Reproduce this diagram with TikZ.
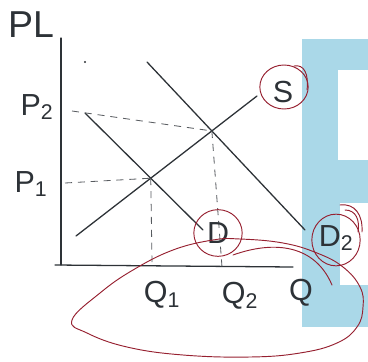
\documentclass[tikz,border=0pt]{standalone}
\usepackage{fontspec}
\setmainfont{Liberation Sans}
\usepackage{xcolor}
\usepackage{tikz}
\usetikzlibrary{positioning, shapes.geometric}

\definecolor{inkred}{RGB}{150,32,48}
\definecolor{inkgray}{RGB}{45,50,55}
\definecolor{skyblue}{RGB}{170,216,232}

\begin{document}
\begin{tikzpicture}[
    x=0.03cm, y=-0.03cm,
    curve/.style={draw=inkgray, line width=1.1pt, line cap=round},
    guide/.style={draw=inkgray!80, line width=0.7pt, dash pattern=on 6pt off 5pt},
    lbl/.style={text=inkgray, font=\fontsize{26}{26}\selectfont, inner sep=0pt},
    ring/.style={draw=inkred, ellipse, line width=0.8pt, minimum width=1.45cm, minimum height=1.4cm},
    scrawl/.style={draw=inkred, line width=0.8pt, line cap=round},
]

\useasboundingbox (0,0) rectangle (368,361);

% Background letter
\fill[skyblue] (302,39) rectangle (368,327);
\fill[white] (338,70) rectangle (368,160);
\fill[white] (340,203) rectangle (368,285);

% Axes
\coordinate (ytop) at (61,38);
\coordinate (origin) at (61,265);
\coordinate (xstart) at (55,265);
\coordinate (xend) at (293,267);
\draw[curve] (ytop) -- (origin);
\draw[curve] (xstart) -- (xend);

% Supply and demand curves
\coordinate (s0) at (76,236);
\coordinate (s1) at (257,96);
\coordinate (d0) at (85,113);
\coordinate (d1) at (203,230);
\coordinate (e0) at (147,62);
\coordinate (e1) at (305,230);
\draw[curve] (s0) -- (s1);
\draw[curve] (d0) -- (d1);
\draw[curve] (e0) -- (e1);
\coordinate (E1) at (intersection of s0--s1 and d0--d1);
\coordinate (E2) at (intersection of s0--s1 and e0--e1);

% Guide lines
\coordinate (p2) at (72,111);
\coordinate (p1) at (65,183);
\coordinate (q1) at (152,262);
\coordinate (q2) at (222,267);
\draw[guide] (p2) -- (E2);
\draw[guide] (p1) -- (E1);
\draw[guide] (E1) -- (q1);
\draw[guide] (E2) -- (q2);
\fill[inkgray] (85,62) circle (1.2);

% Labels
\node[lbl, font=\fontsize{32}{32}\selectfont] (PL) at (31,25) {PL};
\node[lbl] (P2) at (37,107) {P\textsubscript{2}};
\node[lbl] (P1) at (31,184) {P\textsubscript{1}};
\node[lbl] (Q1) at (162,295) {Q\textsubscript{1}};
\node[lbl] (Q2) at (240,296) {Q\textsubscript{2}};
\node[lbl] (Q) at (301,293) {Q};
\node[lbl] (S) at (283,92) {S};
\node[lbl] (D) at (218,233) {D};
\node[lbl] (D2) at (336,238) {D\textsubscript{2}};

% Red markings
\node[ring, minimum height=1.32cm] (Sring) at (284,87) {};
\node[ring] (Dring) at (218,233) {};
\node[ring, minimum height=1.55cm] (D2ring) at (336,240) {};
\draw[scrawl] (294,66) .. controls (304,64) and (309,74) .. (307,90);
\draw[scrawl] (340,205) .. controls (355,203) and (363,215) .. (362,232);
\draw[scrawl] (345,210) .. controls (356,210) and (360,220) .. (358,232);
\draw[scrawl] plot[smooth cycle, tension=0.7] coordinates {
    (72,320) (100,293) (133,270) (173,250) (213,240) (240,239) (283,243)
    (317,253) (343,267) (360,287) (363,307) (357,327) (337,343) (300,353)
    (250,357) (183,355) (127,347) (87,333)};
\draw[scrawl] (233,255) .. controls (275,240) and (315,245) .. (332,285);

\end{tikzpicture}
\end{document}
